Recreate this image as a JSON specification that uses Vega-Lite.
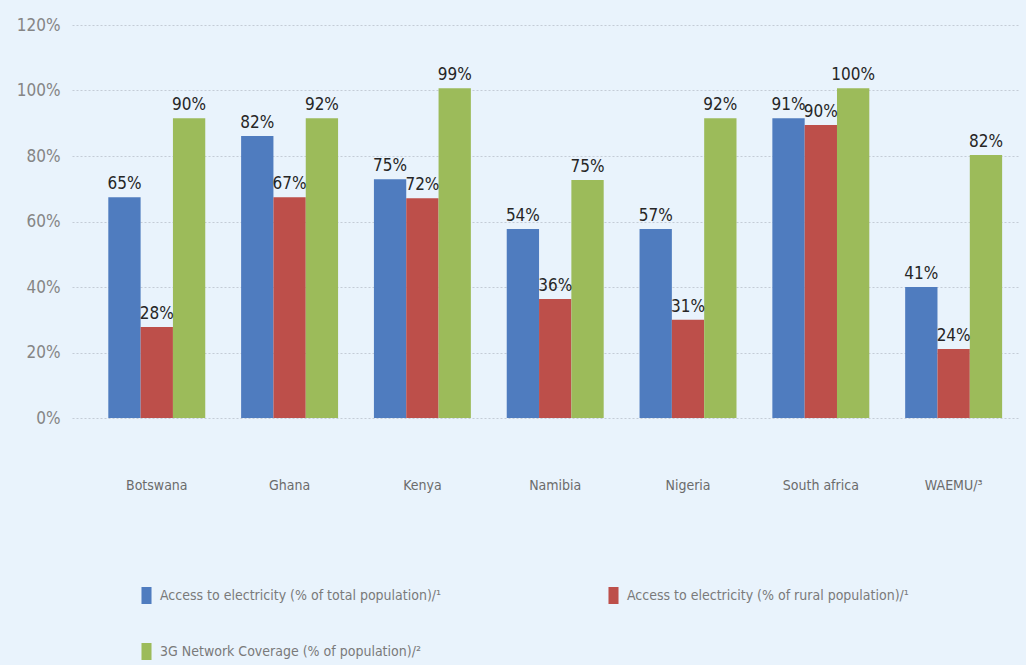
{
  "$schema": "https://vega.github.io/schema/vega-lite/v6.json",
  "width": 948,
  "height": 393,
  "autosize": {"type": "none"},
  "padding": {"left": 72, "top": 25, "right": 6, "bottom": 247},
  "background": "#e9f3fc",
  "config": {
    "view": {"stroke": null},
    "font": "DejaVu Sans Condensed, Liberation Sans Narrow, sans-serif"
  },
  "data": {
    "values": [
      {"country": "Botswana", "series": "Access to electricity (% of total population)/¹", "order": 1, "value": 67.4, "label": "65%"},
      {"country": "Botswana", "series": "Access to electricity (% of rural population)/¹", "order": 2, "value": 27.8, "label": "28%"},
      {"country": "Botswana", "series": "3G Network Coverage (% of population)/²", "order": 3, "value": 91.5, "label": "90%"},
      {"country": "Ghana", "series": "Access to electricity (% of total population)/¹", "order": 1, "value": 86.1, "label": "82%"},
      {"country": "Ghana", "series": "Access to electricity (% of rural population)/¹", "order": 2, "value": 67.4, "label": "67%"},
      {"country": "Ghana", "series": "3G Network Coverage (% of population)/²", "order": 3, "value": 91.5, "label": "92%"},
      {"country": "Kenya", "series": "Access to electricity (% of total population)/¹", "order": 1, "value": 72.9, "label": "75%"},
      {"country": "Kenya", "series": "Access to electricity (% of rural population)/¹", "order": 2, "value": 67.1, "label": "72%"},
      {"country": "Kenya", "series": "3G Network Coverage (% of population)/²", "order": 3, "value": 100.7, "label": "99%"},
      {"country": "Namibia", "series": "Access to electricity (% of total population)/¹", "order": 1, "value": 57.7, "label": "54%"},
      {"country": "Namibia", "series": "Access to electricity (% of rural population)/¹", "order": 2, "value": 36.3, "label": "36%"},
      {"country": "Namibia", "series": "3G Network Coverage (% of population)/²", "order": 3, "value": 72.7, "label": "75%"},
      {"country": "Nigeria", "series": "Access to electricity (% of total population)/¹", "order": 1, "value": 57.7, "label": "57%"},
      {"country": "Nigeria", "series": "Access to electricity (% of rural population)/¹", "order": 2, "value": 30.0, "label": "31%"},
      {"country": "Nigeria", "series": "3G Network Coverage (% of population)/²", "order": 3, "value": 91.5, "label": "92%"},
      {"country": "South africa", "series": "Access to electricity (% of total population)/¹", "order": 1, "value": 91.5, "label": "91%"},
      {"country": "South africa", "series": "Access to electricity (% of rural population)/¹", "order": 2, "value": 89.5, "label": "90%"},
      {"country": "South africa", "series": "3G Network Coverage (% of population)/²", "order": 3, "value": 100.7, "label": "100%"},
      {"country": "WAEMU/³", "series": "Access to electricity (% of total population)/¹", "order": 1, "value": 40.0, "label": "41%"},
      {"country": "WAEMU/³", "series": "Access to electricity (% of rural population)/¹", "order": 2, "value": 21.1, "label": "24%"},
      {"country": "WAEMU/³", "series": "3G Network Coverage (% of population)/²", "order": 3, "value": 80.3, "label": "82%"}
    ]
  },
  "encoding": {
    "x": {
      "field": "country",
      "type": "nominal",
      "sort": null,
      "scale": {"paddingInner": 0.27, "paddingOuter": 0.204, "align": 0.67},
      "axis": {
        "title": null,
        "labelAngle": 0,
        "domain": false,
        "ticks": false,
        "labelPadding": 60,
        "labelFontSize": 14,
        "labelColor": "#6b6b6b"
      }
    },
    "xOffset": {"field": "series", "type": "nominal", "sort": {"field": "order"}},
    "y": {
      "field": "value",
      "type": "quantitative",
      "scale": {"domain": [0, 120], "nice": false},
      "axis": {
        "title": null,
        "values": [0, 20, 40, 60, 80, 100, 120],
        "labelExpr": "datum.value + '%'",
        "domain": false,
        "ticks": false,
        "labelPadding": 12,
        "labelFontSize": 17,
        "labelColor": "#858585",
        "gridColor": "#c4ccd6",
        "gridDash": [2, 2],
        "gridWidth": 1.2
      }
    }
  },
  "layer": [
    {
      "mark": {"type": "bar"},
      "encoding": {
        "color": {
          "field": "series",
          "type": "nominal",
          "sort": {"field": "order"},
          "scale": {"range": ["#4f7cbf", "#bd4f4a", "#9cbb5a"]},
          "legend": {
            "title": null,
            "orient": "none",
            "legendX": 66,
            "legendY": 562,
            "direction": "horizontal",
            "columns": 2,
            "columnPadding": 163,
            "rowPadding": 39,
            "labelFontSize": 14,
            "labelColor": "#7a7a7a",
            "labelLimit": 400,
            "symbolType": "M-0.59,-1H0.59V1H-0.59Z",
            "symbolSize": 289,
            "symbolStrokeWidth": 0,
            "labelOffset": 5
          }
        }
      }
    },
    {
      "mark": {"type": "text", "baseline": "bottom", "dy": -4, "fontSize": 17, "color": "#262626"},
      "encoding": {"text": {"field": "label"}}
    }
  ]
}
